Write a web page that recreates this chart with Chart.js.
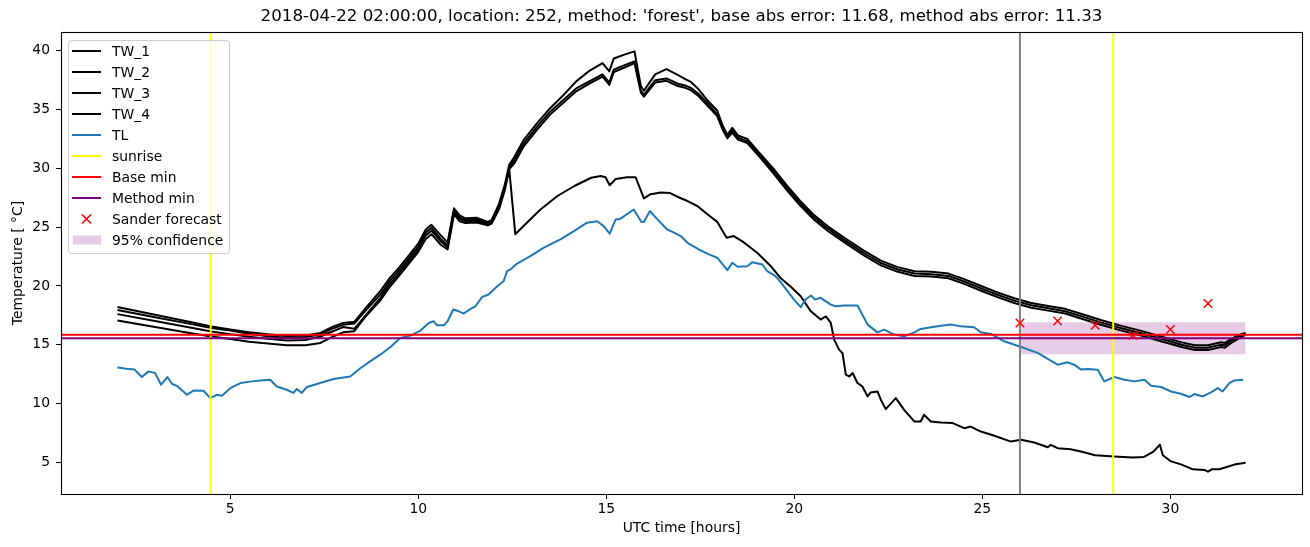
<!DOCTYPE html>
<html>
<head>
<meta charset="utf-8">
<title>TW / TL forecast</title>
<script src="https://cdn.jsdelivr.net/npm/chart.js@4.4.1/dist/chart.umd.min.js"></script>
<style>
  body { margin: 0; background: #fff; }
  #wrap { position: relative; width: 1310px; height: 547px; }
  #legendBox {
    position: absolute; left: 68px; top: 40px; width: 160px; height: 212px;
    border: 1px solid #cccccc; border-radius: 4px; background: rgba(255,255,255,0.8);
  }
  .lg-item { position: absolute; left: 0; height: 16px; }
  .lg-text {
    position: absolute; left: 112px; white-space: nowrap; line-height: 16px;
    font-family: 'DejaVu Sans', sans-serif; font-size: 13.9px; color: #000;
  }
  .lg-handle { position: absolute; left: 72px; }
</style>
</head>
<body>
<div id="wrap">
  <canvas id="chart" width="1310" height="547"></canvas>
  <div id="legendBox"></div>
</div>
<script>
// ---- data ----
const titleText = "2018-04-22 02:00:00, location: 252, method: 'forest', base abs error: 11.68, method abs error: 11.33";
const xLimits = [0.5, 33.5];
const yLimits = [2.3, 41.6];
const xTicks = [5, 10, 15, 20, 25, 30];
const yTicks = [5, 10, 15, 20, 25, 30, 35, 40];

// TW_1..TW_3 share these times
const twHours = [2, 3, 4, 4.5, 5, 5.5, 6, 6.5, 7, 7.4,
  7.7, 8.0, 8.3, 8.6, 9.0, 9.25, 9.5, 9.75, 10.0, 10.2,
  10.35, 10.6, 10.78, 10.95, 11.1, 11.25, 11.55, 11.85, 11.95, 12.15,
  12.3, 12.42, 12.55, 12.8, 13.15, 13.5, 13.85, 14.2, 14.55, 14.9,
  15.08, 15.2, 15.5, 15.75, 15.92, 16.0, 16.3, 16.6, 16.9, 17.1,
  17.25, 17.45, 17.7, 17.95, 18.1, 18.22, 18.35, 18.5, 18.75, 19.1,
  19.45, 19.8, 20.15, 20.5, 20.9, 21.4, 21.85, 22.3, 22.75, 23.2,
  23.65, 24.1, 24.5, 25.0, 25.4, 25.85, 26.3, 26.75, 27.2, 27.6,
  28.15, 28.7, 29.2, 29.75, 30.3, 30.65, 31.0, 31.2, 31.35, 31.45,
  31.6, 31.8, 32.0];

const tw1 = [18.2, 17.54, 16.88, 16.55, 16.3, 16.05, 15.88, 15.75, 15.78, 16.0,
  16.5, 16.85, 16.95, 18.1, 19.6, 20.7, 21.6, 22.6, 23.6, 24.8,
  25.2, 24.3, 23.7, 26.6, 26.0, 25.75, 25.8, 25.45, 25.6, 27.0,
  28.6, 30.3, 30.95, 32.4, 33.8, 35.1, 36.2, 37.4, 38.3, 38.95,
  38.25, 39.35, 39.7, 39.95, 37.0, 36.6, 38.0, 38.45, 37.95, 37.6,
  37.35, 36.75, 35.75, 34.9, 33.6, 32.85, 33.45, 32.8, 32.5, 31.2,
  29.95, 28.55, 27.25, 26.1, 25.05, 23.95, 23.0, 22.15, 21.6, 21.25,
  21.2, 21.05, 20.6, 19.95, 19.45, 18.95, 18.55, 18.3, 18.05, 17.65,
  17.1, 16.6, 16.2, 15.7, 15.2, 14.95, 14.95, 15.1, 15.2, 15.15,
  15.45, 15.8, 16.0];

const tw2 = [17.95, 17.33, 16.73, 16.42, 16.2, 15.93, 15.72, 15.6, 15.65, 15.86,
  16.35, 16.7, 16.8, 17.9, 19.3, 20.45, 21.35, 22.35, 23.35, 24.55,
  24.95, 24.0, 23.45, 26.4, 25.8, 25.6, 25.65, 25.35, 25.5, 26.8,
  28.4, 30.1, 30.65, 32.1, 33.5, 34.8, 35.8, 36.8, 37.4, 38.0,
  37.3, 38.4, 38.8, 39.1, 36.6, 36.25, 37.5, 37.65, 37.2, 37.05,
  36.85, 36.35, 35.5, 34.6, 33.4, 32.7, 33.2, 32.6, 32.3, 31.05,
  29.75, 28.35, 27.05, 25.9, 24.85, 23.75, 22.8, 21.95, 21.4, 21.05,
  21.0, 20.85, 20.4, 19.75, 19.25, 18.75, 18.35, 18.1, 17.85, 17.45,
  16.9, 16.4, 16.0, 15.5, 15.0, 14.75, 14.75, 14.9, 15.0, 14.95,
  15.3, 15.65, 15.95];

const tw3 = [17.6, 17.02, 16.42, 16.13, 15.9, 15.68, 15.5, 15.35, 15.4, 15.7,
  16.1, 16.5, 16.35, 17.5, 19.0, 20.2, 21.1, 22.1, 23.1, 24.3,
  24.7, 23.8, 23.3, 26.25, 25.7, 25.5, 25.55, 25.25, 25.4, 26.7,
  28.3, 29.95, 30.4, 31.85, 33.25, 34.55, 35.55, 36.55, 37.2, 37.8,
  37.1, 38.2, 38.6, 38.95, 36.45, 36.1, 37.3, 37.45, 37.0, 36.85,
  36.65, 36.15, 35.3, 34.45, 33.25, 32.55, 33.05, 32.45, 32.15, 30.9,
  29.55, 28.15, 26.85, 25.7, 24.65, 23.55, 22.6, 21.75, 21.2, 20.85,
  20.8, 20.65, 20.2, 19.55, 19.05, 18.55, 18.15, 17.9, 17.65, 17.25,
  16.7, 16.2, 15.8, 15.3, 14.8, 14.55, 14.55, 14.7, 14.8, 14.75,
  15.1, 15.5, 15.85];

const tw4Hours = [2, 3, 4, 4.5, 5, 5.5, 6, 6.5, 7, 7.4,
  7.7, 8.0, 8.3, 8.6, 9.0, 9.25, 9.5, 9.75, 10.0, 10.2,
  10.35, 10.6, 10.78, 10.95, 11.1, 11.25, 11.55, 11.85, 11.95, 12.15,
  12.3, 12.42, 12.58, 12.8, 13.25, 13.7, 14.15, 14.6, 14.85, 14.98,
  15.09, 15.25, 15.55, 15.78, 16.0, 16.18, 16.45, 16.7, 16.95, 17.16,
  17.42, 17.69, 17.95, 18.2, 18.39, 18.66, 19.02, 19.37, 19.64, 19.9,
  20.17, 20.44, 20.7, 20.84, 20.97, 21.06, 21.19, 21.28, 21.37, 21.46,
  21.55, 21.68, 21.81, 21.95, 22.03, 22.21, 22.3, 22.43, 22.56, 22.7,
  22.92, 23.19, 23.36, 23.45, 23.63, 23.9, 24.21, 24.52, 24.69, 24.96,
  25.32, 25.76, 26.03, 26.38, 26.74, 26.82, 27.0, 27.35, 27.62, 28.0,
  28.5, 29.0, 29.3, 29.55, 29.72, 29.8, 30.0, 30.3, 30.6, 30.9,
  31.0, 31.1, 31.3, 31.5, 31.7, 32.0];

const tw4 = [17.05, 16.5, 15.96, 15.7, 15.48, 15.25, 15.1, 14.95, 14.95, 15.15,
  15.65, 16.05, 16.15, 17.4, 18.8, 19.95, 20.9, 21.9, 22.9, 24.0,
  24.4, 23.5, 23.1, 26.1, 25.5, 25.35, 25.4, 25.15, 25.3, 26.55,
  28.15, 29.9, 24.4, 25.1, 26.5, 27.65, 28.5, 29.2, 29.35, 29.25,
  28.56, 29.1, 29.25, 29.25, 27.45, 27.8, 27.95, 27.9, 27.5, 27.22,
  26.8, 26.1, 25.45, 24.1, 24.24, 23.7, 22.8, 21.7, 20.65, 19.95,
  19.12, 17.84, 17.14, 17.42, 16.85, 15.43, 14.58, 14.3, 12.45, 12.3,
  12.59, 11.74, 11.45, 10.6, 10.94, 11.02, 10.32, 9.52, 9.97, 10.46,
  9.46, 8.47, 8.47, 9.04, 8.47, 8.38, 8.33, 7.9, 8.04, 7.61,
  7.25, 6.76, 6.91, 6.68, 6.28, 6.48, 6.2, 6.11, 5.91, 5.6,
  5.5, 5.4, 5.45, 5.9, 6.5, 5.6, 5.1, 4.8, 4.4, 4.35,
  4.2, 4.4, 4.4, 4.6, 4.8, 4.95];

const tlHours = [2.0, 2.25, 2.45, 2.65, 2.83, 3.0, 3.16, 3.33, 3.45, 3.58,
  3.85, 4.02, 4.29, 4.47, 4.64, 4.78, 5.0, 5.27, 5.58, 5.8,
  6.06, 6.24, 6.5, 6.68, 6.77, 6.9, 7.04, 7.39, 7.75, 8.19,
  8.46, 8.73, 8.99, 9.26, 9.52, 9.79, 10.06, 10.28, 10.41, 10.5,
  10.68, 10.78, 10.93, 11.08, 11.21, 11.39, 11.52, 11.7, 11.87, 12.1,
  12.27, 12.36, 12.45, 12.63, 12.98, 13.34, 13.78, 14.14, 14.49, 14.76,
  14.93, 15.09, 15.25, 15.38, 15.73, 15.93, 16.0, 16.16, 16.36, 16.62,
  16.76, 16.98, 17.16, 17.46, 17.73, 17.95, 18.22, 18.35, 18.49, 18.75,
  18.88, 19.15, 19.28, 19.5, 19.64, 19.82, 19.99, 20.17, 20.3, 20.44,
  20.55, 20.7, 20.97, 21.1, 21.32, 21.68, 21.95, 22.21, 22.39, 22.65,
  22.92, 23.19, 23.36, 23.81, 24.16, 24.43, 24.78, 24.96, 25.23, 25.58,
  26.03, 26.47, 26.74, 27.0, 27.27, 27.44, 27.62, 27.8, 28.07, 28.24,
  28.51, 28.78, 29.04, 29.31, 29.49, 29.75, 30.02, 30.28, 30.51, 30.64,
  30.86, 31.08, 31.26, 31.39, 31.57, 31.7, 31.93];

const tl = [13.07, 12.96, 12.9, 12.25, 12.73, 12.6, 11.6, 12.25, 11.68, 11.5,
  10.74, 11.1, 11.08, 10.46, 10.74, 10.66, 11.3, 11.74, 11.88, 11.96,
  12.02, 11.45, 11.17, 10.9, 11.23, 10.9, 11.4, 11.74, 12.08, 12.3,
  13.0, 13.6, 14.15, 14.8, 15.57, 15.77, 16.2, 16.85, 17.0, 16.65,
  16.65, 17.0, 17.99, 17.84, 17.65, 18.05, 18.27, 19.07, 19.27, 19.97,
  20.4, 21.25, 21.4, 21.9, 22.53, 23.25, 23.96, 24.66, 25.38, 25.5,
  25.09, 24.44, 25.66, 25.72, 26.5, 25.46, 25.43, 26.37, 25.66, 24.8,
  24.6, 24.24, 23.67, 23.1, 22.68, 22.4, 21.34, 21.97, 21.63, 21.68,
  22.02, 21.82, 21.25, 20.83, 20.3, 19.55, 18.84, 18.2, 18.84, 19.18,
  18.84, 18.99, 18.41, 18.27, 18.33, 18.33, 16.71, 16.05, 16.28, 15.86,
  15.71, 16.05, 16.34, 16.56, 16.71, 16.56, 16.48, 16.05, 15.92, 15.29,
  14.8, 14.3, 13.79, 13.3, 13.5, 13.3, 12.9, 12.93, 12.87, 11.88,
  12.25, 12.02, 11.88, 12.02, 11.51, 11.4, 11.02, 10.83, 10.55, 10.8,
  10.6, 10.94, 11.31, 11.02, 11.74, 11.96, 12.02];

const sunriseHours = [4.48, 28.48];
const forecastStart = [26];
const baseMin = 15.85;
const methodMin = 15.55;
const forecastHours = [26, 27, 28, 29, 30, 31];
const forecastValues = [16.85, 17.02, 16.65, 15.8, 16.3, 18.5];
const bandHours = [26, 32];
const bandLow = [14.18, 14.18];
const bandHigh = [16.9, 16.9];

// ---- helpers ----
const FONT = "'DejaVu Sans', 'Liberation Sans', sans-serif";
Chart.defaults.font.family = FONT;
Chart.defaults.color = '#000';

function pts(xs, ys) { return xs.map((x, i) => ({ x: x, y: ys[i] })); }
function vlines(xs) {
  let out = [];
  xs.forEach(x => { out.push({ x: x, y: yLimits[0] }, { x: x, y: yLimits[1] }, { x: x, y: null }); });
  return out;
}
function hline(y) { return [{ x: xLimits[0], y: y }, { x: xLimits[1], y: y }]; }

function lineSet(label, data, color, order, kind) {
  return {
    label: label, data: data, borderColor: color, backgroundColor: color,
    borderWidth: 2, pointRadius: 0, pointHoverRadius: 0, tension: 0, fill: false,
    spanGaps: false, borderJoinStyle: 'round', order: order, legendKind: kind || 'line'
  };
}

const datasets = [
  lineSet('TW_1', pts(twHours, tw1), '#000000', 50),
  lineSet('TW_2', pts(twHours, tw2), '#000000', 49),
  lineSet('TW_3', pts(twHours, tw3), '#000000', 48),
  lineSet('TW_4', pts(tw4Hours, tw4), '#000000', 47),
  lineSet('TL', pts(tlHours, tl), '#1f77b4', 46),
  lineSet('sunrise', vlines(sunriseHours), '#ffff00', 45),
  lineSet('Base min', hline(baseMin), '#ff0000', 44),
  lineSet('Method min', hline(methodMin), '#800080', 43),
  {
    label: 'Sander forecast', data: pts(forecastHours, forecastValues), showLine: false,
    pointStyle: 'crossRot', pointRadius: 6, pointHoverRadius: 6, borderColor: '#ff0000',
    backgroundColor: '#ff0000', pointBorderWidth: 1.5, order: 42, legendKind: 'cross'
  },
  {
    label: '95% confidence', data: pts(bandHours, bandHigh), borderWidth: 0, pointRadius: 0,
    borderColor: 'rgba(0,0,0,0)', backgroundColor: 'rgba(128,0,128,0.2)', fill: '+1',
    order: 100, legendKind: 'patch'
  },
  {
    label: '_band_low', data: pts(bandHours, bandLow), borderWidth: 0, pointRadius: 0,
    borderColor: 'rgba(0,0,0,0)', fill: false, order: 101, legendKind: 'none'
  },
  Object.assign(lineSet('_forecast_start', vlines(forecastStart), '#808080', 45.5), { legendKind: 'none' })
];

const frameAndTitle = {
  id: 'frameAndTitle',
  afterDatasetsDraw(chart) {
    const { ctx, chartArea: a } = chart;
    ctx.save();
    ctx.strokeStyle = '#000';
    ctx.lineWidth = 1.1;
    ctx.strokeRect(a.left + 0.5, a.top + 0.5, a.right - a.left, a.bottom - a.top);
    ctx.restore();
  },
  afterDraw(chart) {
    const { ctx, chartArea: a } = chart;
    ctx.save();
    ctx.fillStyle = '#000';
    ctx.font = '16.67px ' + FONT;
    ctx.textAlign = 'center';
    ctx.textBaseline = 'middle';
    ctx.fillText(titleText, (a.left + a.right) / 2, 17);
    ctx.restore();
  }
};

const tickFont = { family: FONT, size: 13.9 };

const chart = new Chart(document.getElementById('chart'), {
  type: 'line',
  data: { datasets: datasets },
  options: {
    responsive: false,
    animation: false,
    devicePixelRatio: 1,
    parsing: true,
    layout: { padding: { top: 32, right: 8, left: 0, bottom: 0 } },
    plugins: {
      legend: { display: false },
      title: { display: false },
      tooltip: { enabled: false }
    },
    scales: {
      x: {
        type: 'linear', min: xLimits[0], max: xLimits[1],
        afterBuildTicks: s => { s.ticks = xTicks.map(v => ({ value: v })); },
        afterFit: s => { s.height = 53; },
        ticks: { font: tickFont, color: '#000', padding: 2, maxRotation: 0, autoSkip: false },
        grid: { display: true, drawOnChartArea: false, drawTicks: true, tickLength: 5, tickColor: '#000', tickWidth: 1 },
        border: { display: false },
        title: { display: true, text: 'UTC time [hours]', font: tickFont, color: '#000', padding: { top: 0, bottom: 10 } }
      },
      y: {
        type: 'linear', min: yLimits[0], max: yLimits[1],
        afterBuildTicks: s => { s.ticks = yTicks.map(v => ({ value: v })); },
        afterFit: s => { s.width = 61; },
        ticks: { font: tickFont, color: '#000', padding: 6 },
        grid: { display: true, drawOnChartArea: false, drawTicks: true, tickLength: 5, tickColor: '#000', tickWidth: 1 },
        border: { display: false },
        title: { display: true, text: 'Temperature [ °C]', font: tickFont, color: '#000', padding: { top: 10, bottom: 0 } }
      }
    }
  },
  plugins: [frameAndTitle]
});

// ---- legend (html, built from the datasets) ----
const wrap = document.getElementById('wrap');
let row = 0;
chart.data.datasets.forEach(ds => {
  if (ds.legendKind === 'none') return;
  const cy = 51 + row * 21;
  row++;
  const item = document.createElement('div');
  item.className = 'lg-item';
  item.style.top = (cy - 8) + 'px';
  item.style.width = '230px';
  let svg = '';
  if (ds.legendKind === 'line') {
    svg = '<svg class="lg-handle" width="30" height="16" style="top:0"><line x1="0" y1="8" x2="29" y2="8" stroke="' +
      ds.borderColor + '" stroke-width="2"/></svg>';
  } else if (ds.legendKind === 'cross') {
    svg = '<svg class="lg-handle" width="30" height="16" style="top:0"><path d="M10 3.5 L19 12.5 M19 3.5 L10 12.5" stroke="' +
      ds.borderColor + '" stroke-width="1.6"/></svg>';
  } else if (ds.legendKind === 'patch') {
    svg = '<svg class="lg-handle" width="30" height="16" style="top:0"><rect x="1" y="3.5" width="28" height="9" fill="' +
      ds.backgroundColor + '"/></svg>';
  }
  item.innerHTML = svg + '<span class="lg-text" style="top:0">' + ds.label + '</span>';
  wrap.appendChild(item);
});
</script>
</body>
</html>
